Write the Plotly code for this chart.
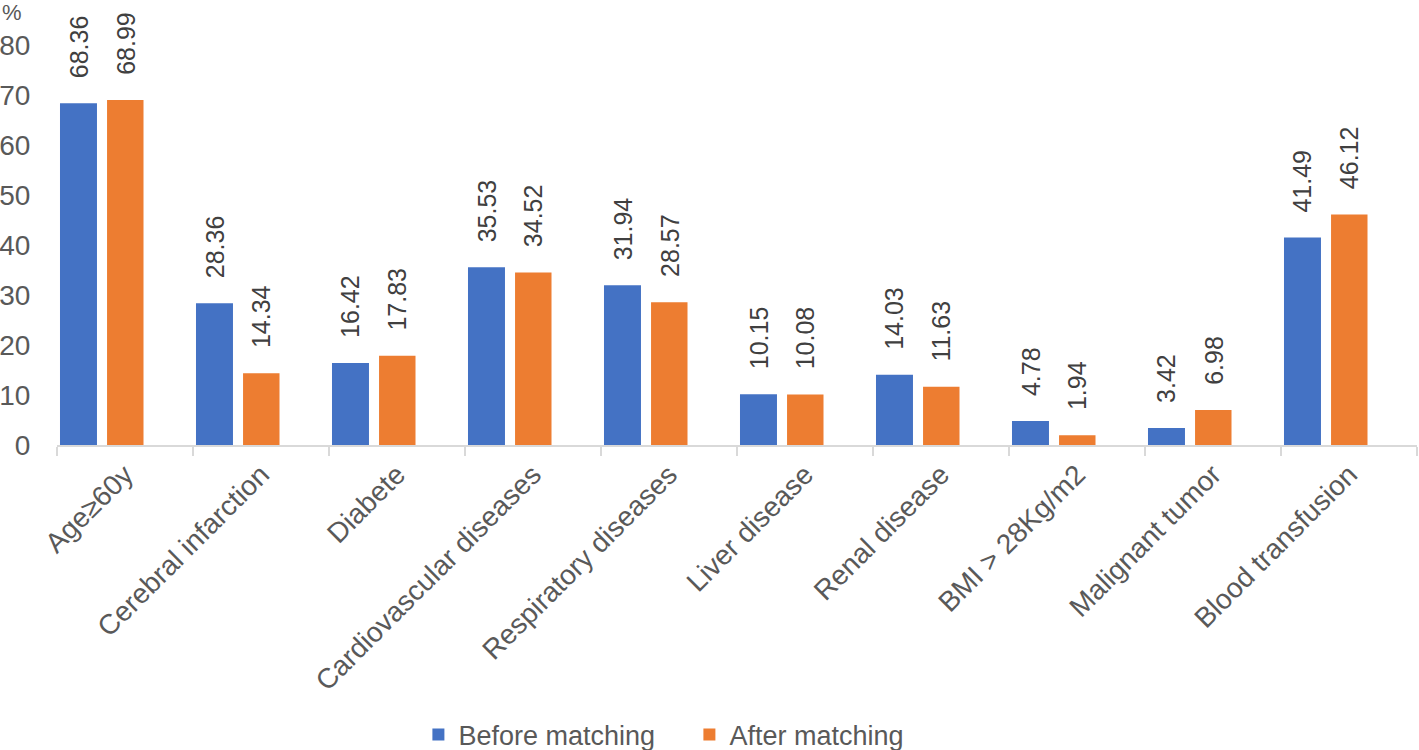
import plotly.graph_objects as go

categories = ["Age≥60y", "Cerebral infarction", "Diabete", "Cardiovascular diseases",
              "Respiratory diseases", "Liver disease", "Renal disease", "BMI > 28Kg/m2",
              "Malignant tumor", "Blood transfusion"]
before = [68.36, 28.36, 16.42, 35.53, 31.94, 10.15, 14.03, 4.78, 3.42, 41.49]
after = [68.99, 14.34, 17.83, 34.52, 28.57, 10.08, 11.63, 1.94, 6.98, 46.12]
y_ticks = [0, 10, 20, 30, 40, 50, 60, 70, 80]

FONT = "Liberation Sans"
TXT = "#595959"
xs = list(range(len(categories)))

series = [
    ("Before matching", before, "#4472C4", -0.478, 0.272),
    ("After matching", after, "#ED7D31", -0.132, 0.268),
]

fig = go.Figure()
annotations = []
for name, vals, color, off, w in series:
    fig.add_trace(go.Bar(
        x=xs, y=vals, name=name, marker=dict(color=color, line=dict(width=0)),
        offset=off, width=w,
    ))
    for xi, v in zip(xs, vals):
        annotations.append(dict(
            x=xi + off + w / 2, y=v, xref="x", yref="y", text=f"{v:.2f}",
            textangle=-90, showarrow=False, yanchor="bottom", xanchor="center",
            yshift=23, font=dict(family=FONT, size=25, color="#404040"),
        ))

annotations.append(dict(
    x=-0.033, y=1.08, xref="paper", yref="paper", text="%", showarrow=False,
    xanchor="center", yanchor="middle", font=dict(family=FONT, size=22, color=TXT),
))

fig.update_layout(
    width=1419, height=750,
    margin=dict(l=57, r=2, t=45, b=305, autoexpand=False),
    plot_bgcolor="white", paper_bgcolor="white",
    barmode="overlay",
    font=dict(family=FONT, size=28, color=TXT),
    showlegend=True,
    legend=dict(orientation="h", x=0.465, xanchor="center", y=-0.725, yanchor="middle",
                font=dict(family=FONT, size=27, color=TXT), itemwidth=30,
                entrywidth=226, entrywidthmode="pixels",
                traceorder="normal"),
    annotations=annotations,
)
fig.update_xaxes(
    range=[-0.5, 9.5], tickvals=xs, ticktext=categories, tickangle=-45,
    showline=True, linecolor="#d9d9d9", linewidth=2, ticks="", showgrid=False,
    zeroline=False, automargin=False,
    minor=dict(tick0=-0.5, dtick=1, ticks="outside", ticklen=9, tickcolor="#d9d9d9",
               tickwidth=2, showgrid=False),
    tickfont=dict(family=FONT, size=28, color=TXT),
)
fig.update_yaxes(
    range=[0, 80], tickvals=y_ticks, showgrid=False, zeroline=False, showline=False,
    ticks="outside", ticklen=20, tickcolor="rgba(0,0,0,0)", automargin=False,
    tickfont=dict(family=FONT, size=28, color=TXT),
)

fig.write_html("out.html", config={"displayModeBar": False},
               post_script="document.body.style.margin='0';")
